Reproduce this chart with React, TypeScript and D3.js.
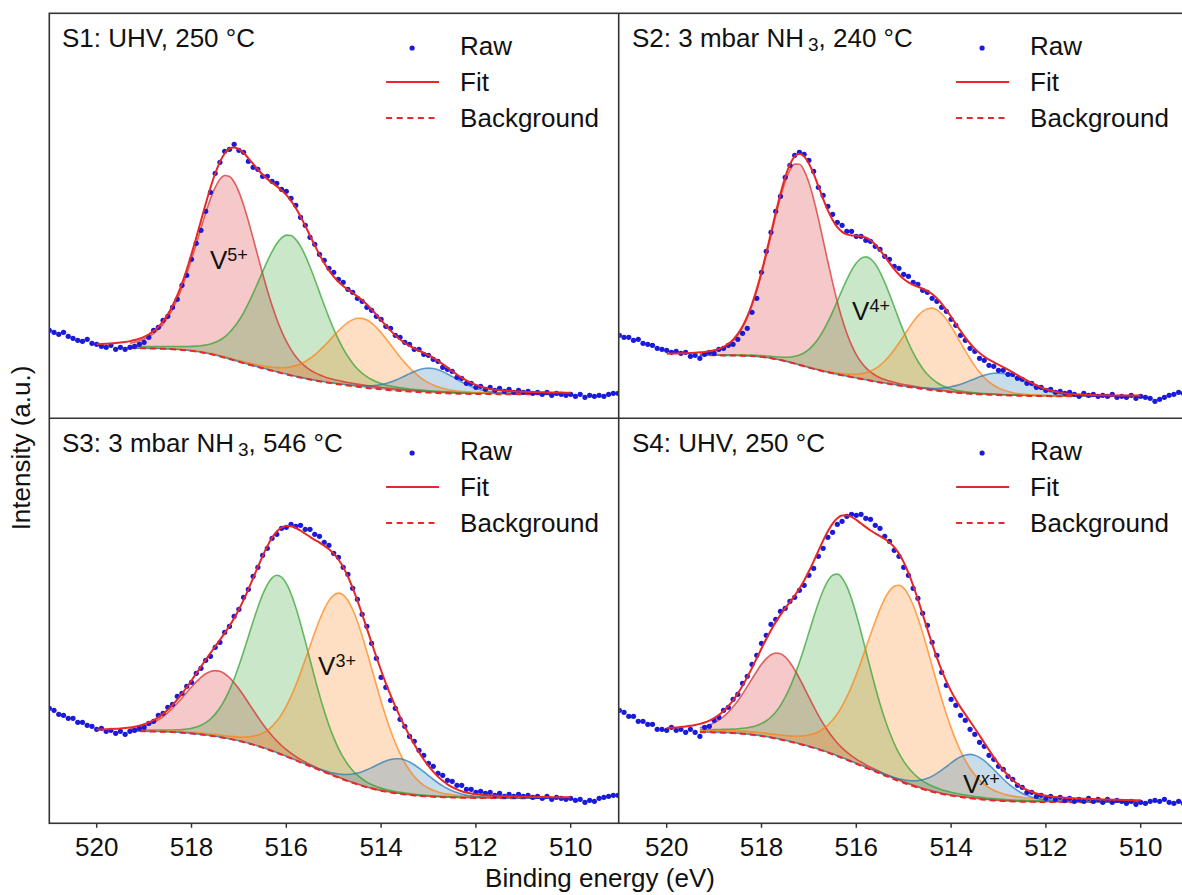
import React from "react";
import * as d3 from "d3";

// raw spectra sampled from 521.0 eV down to 509.0 eV in 0.1 eV steps (a.u.)
const rawStartEnergy = 521.0;
const rawStepEnergy = 0.1;

const s1Raw = [
  8.8, 8.6, 8.4, 8.6, 8.2, 8.0, 7.8, 7.7, 7.9, 7.5,
  7.4, 7.2, 7.1, 7.3, 6.9, 7.1, 6.9, 7.1, 7.2, 7.4,
  7.6, 8.1, 8.8, 9.1, 9.8, 10.2, 11.1, 11.9, 13.3, 14.3,
  15.9, 17.5, 18.8, 20.7, 22.6, 24.5, 25.6, 26.7, 26.9, 27.4,
  26.8, 26.6, 25.7, 25.1, 24.9, 24.2, 24.2, 23.7, 23.5, 22.9,
  22.7, 22.0, 21.3, 20.1, 19.3, 18.1, 17.4, 16.4, 15.8, 15.0,
  14.6, 13.9, 13.6, 12.9, 12.6, 12.0, 11.7, 11.1, 10.8, 10.2,
  9.9, 9.2, 9.0, 8.3, 8.1, 7.6, 7.4, 6.9, 6.9, 6.4,
  6.3, 5.9, 5.7, 5.1, 4.9, 4.7, 4.1, 4.0, 3.5, 3.5,
  3.1, 3.2, 2.9, 3.1, 2.8, 3.0, 2.7, 2.9, 2.6, 2.8,
  2.6, 2.7, 2.5, 2.6, 2.4, 2.6, 2.3, 2.5, 2.4, 2.3,
  2.4, 2.2, 2.4, 2.1, 2.3, 2.2, 2.3, 2.2, 2.4, 2.5,
  2.5,
];

const s2Raw = [
  8.3, 8.1, 8.1, 7.8, 7.9, 7.5, 7.4, 7.3, 7.0, 6.9,
  6.8, 6.6, 6.7, 6.5, 6.6, 6.2, 6.3, 6.0, 6.4, 6.6,
  6.5, 6.9, 7.0, 7.3, 7.4, 7.9, 8.5, 9.0, 10.6, 12.0,
  14.6, 16.7, 18.6, 20.7, 22.2, 24.1, 25.3, 26.3, 26.6, 26.4,
  25.8, 24.7, 23.1, 22.3, 21.2, 20.4, 19.6, 19.3, 18.7, 18.7,
  18.2, 18.2, 17.8, 17.7, 17.2, 16.9, 16.2, 15.9, 15.2, 15.0,
  14.4, 14.2, 13.6, 13.4, 12.8, 12.6, 12.0, 11.7, 11.1, 10.7,
  9.9, 9.3, 8.3, 7.8, 7.0, 6.7, 6.0, 5.8, 5.3, 5.2,
  4.8, 4.8, 4.4, 4.4, 4.0, 3.9, 3.5, 3.5, 3.1, 3.1,
  2.8, 2.9, 2.6, 2.7, 2.5, 2.6, 2.4, 2.2, 2.5, 2.3,
  2.4, 2.2, 2.3, 2.2, 2.4, 2.1, 2.2, 2.1, 2.3, 2.0,
  2.2, 2.1, 2.0, 1.7, 1.9, 2.1, 2.3, 2.4, 2.6, 2.5,
  2.7,
];

const s3Raw = [
  11.5, 11.3, 10.9, 10.8, 10.5, 10.5, 10.1, 10.1, 9.8, 9.7,
  9.4, 9.5, 9.2, 9.3, 9.0, 9.2, 8.9, 9.2, 9.3, 9.5,
  9.6, 10.0, 10.2, 10.8, 11.0, 11.6, 11.9, 12.7, 13.0, 13.7,
  14.1, 15.0, 15.5, 16.3, 16.7, 17.6, 18.1, 19.1, 19.7, 20.7,
  21.4, 22.6, 23.4, 24.7, 25.6, 26.8, 27.5, 28.5, 28.9, 29.5,
  29.6, 29.9, 29.7, 29.8, 29.4, 29.4, 28.9, 28.7, 28.1, 27.8,
  27.0, 26.6, 25.6, 24.9, 23.5, 22.4, 20.9, 19.7, 18.0, 16.5,
  14.6, 13.6, 12.3, 11.5, 10.4, 9.7, 8.7, 8.2, 7.3, 6.8,
  6.0, 5.7, 5.0, 4.8, 4.3, 4.2, 3.8, 3.8, 3.4, 3.4,
  3.1, 3.2, 3.0, 3.1, 2.8, 3.0, 2.7, 2.9, 2.7, 2.9,
  2.7, 2.8, 2.6, 2.7, 2.5, 2.7, 2.4, 2.6, 2.5, 2.4,
  2.5, 2.3, 2.4, 2.1, 2.3, 2.2, 2.5, 2.6, 2.7, 2.8,
  2.8,
];

const s4Raw = [
  11.3, 11.1, 10.7, 10.7, 10.2, 10.2, 9.9, 9.9, 9.4, 9.4,
  9.3, 9.6, 9.3, 9.4, 9.1, 9.4, 9.1, 8.7, 9.6, 9.7,
  10.3, 10.6, 11.3, 11.6, 12.4, 12.9, 14.0, 14.7, 15.9, 16.8,
  18.0, 18.8, 19.9, 20.4, 21.2, 21.5, 22.2, 22.6, 23.3, 23.8,
  24.8, 25.5, 26.7, 27.5, 28.6, 29.1, 29.9, 30.2, 30.7, 30.9,
  30.8, 30.9, 30.5, 30.4, 29.8, 29.5, 28.7, 28.2, 27.3, 26.7,
  25.6, 24.8, 23.5, 22.5, 21.0, 19.8, 18.1, 16.8, 15.1, 13.8,
  12.4, 11.8, 10.8, 10.3, 9.4, 8.9, 8.1, 7.7, 6.8, 6.4,
  5.7, 5.4, 4.7, 4.4, 3.8, 3.6, 3.1, 3.1, 2.7, 2.8,
  2.5, 2.7, 2.4, 2.6, 2.3, 2.5, 2.2, 2.4, 2.2, 2.5,
  2.2, 2.4, 2.1, 2.4, 2.1, 2.3, 2.2, 2.0, 2.2, 1.9,
  2.1, 2.0, 2.2, 2.3, 2.2, 2.4, 2.1, 2.0, 2.2, 2.0,
  2.1,
];

// fitted components (red, green, orange, blue): centre eV, height, FWHM eV
const s1Centers = [517.24, 515.93, 514.42, 512.97];
const s1Heights = [18.3, 14.0, 6.9, 2.45];
const s1Fwhm = [1.52, 1.58, 1.62, 1.3];
const s1Background = [7.0, 2.4]; // Shirley end levels: high-BE side, low-BE side
const s1Lorentz = 0.2;

const s2Centers = [517.23, 515.78, 514.4, 513.0];
const s2Heights = [20.1, 12.3, 8.2, 2.2];
const s2Fwhm = [1.36, 1.44, 1.44, 1.4];
const s2Background = [6.3, 2.2];
const s2Lorentz = 0.1;

const s3Centers = [517.45, 516.15, 514.85, 513.6];
const s3Heights = [6.6, 17.8, 18.5, 3.5];
const s3Fwhm = [1.56, 1.52, 1.66, 1.4];
const s3Background = [9.2, 2.5];
const s3Lorentz = 0.1;

const s4Centers = [517.64, 516.39, 515.08, 513.57];
const s4Heights = [8.6, 18.2, 19.6, 4.4];
const s4Fwhm = [1.44, 1.5, 1.72, 1.34];
const s4Background = [9.1, 2.1];
const s4Lorentz = 0.2;

const energyTicks = [520, 518, 516, 514, 512, 510];
const legendLabels = ["Raw", "Fit", "Background"];
const titleMain = ["S1: UHV, 250 °C", "S2: 3 mbar NH", "S3: 3 mbar NH", "S4: UHV, 250 °C"];
const titleSub = ["", "3", "3", ""];
const titleTail = ["", ", 240 °C", ", 546 °C", ""];
const peakLabelSup = ["5+", "4+", "3+", "x+"];
const peakLabelAt = [[517.61, 14.9], [516.09, 9.8], [515.33, 14.8], [513.75, 3.0]];

const panels = [
  { raw: s1Raw, centers: s1Centers, heights: s1Heights, fwhm: s1Fwhm, bg: s1Background, eta: s1Lorentz },
  { raw: s2Raw, centers: s2Centers, heights: s2Heights, fwhm: s2Fwhm, bg: s2Background, eta: s2Lorentz },
  { raw: s3Raw, centers: s3Centers, heights: s3Heights, fwhm: s3Fwhm, bg: s3Background, eta: s3Lorentz },
  { raw: s4Raw, centers: s4Centers, heights: s4Heights, fwhm: s4Fwhm, bg: s4Background, eta: s4Lorentz },
];

const fitHigh = 520.0;
const fitLow = 510.0;
const bgHigh = 519.3;

const componentColors = ["#d62728", "#2ca02c", "#ff7f0e", "#1f77b4"];
const fitColor = "#e6282a";
const rawColor = "#1a1ad9";
const font = "'Liberation Sans', Arial, Helvetica, sans-serif";

const width = 1182;
const height = 895;
const panelW = 568.8;
const panelH = 405;
const panelX = [49.3, 619.3];
const panelY = [13.3, 418.3];

const pseudoVoigt = (e: number, c: number, h: number, fwhm: number, eta: number) => {
  const t = (e - c) / (fwhm / 2);
  const t2 = t * t;
  return h * ((1 - eta) * Math.exp(-Math.LN2 * t2) + eta / (1 + t2));
};

function Panel({ idx }: { idx: number }) {
  const p = panels[idx];
  const x0 = panelX[idx % 2];
  const y0 = panelY[Math.floor(idx / 2)];

  const x = d3.scaleLinear().domain([521, 509]).range([x0, x0 + panelW]);
  const y = d3.scaleLinear().domain([0, 40.5]).range([y0 + panelH, y0]);

  const energies = p.raw.map((_, i) => rawStartEnergy - i * rawStepEnergy);
  const inFit = d3.range(0, energies.length).filter(
    (i) => energies[i] <= fitHigh + 1e-6 && energies[i] >= fitLow - 1e-6
  );
  const inBg = inFit.filter((i) => energies[i] <= bgHigh + 1e-6);

  // iterative Shirley background on the measured spectrum
  const [hi, lo] = p.bg;
  let bgVals = inBg.map(() => lo);
  for (let it = 0; it < 6; it++) {
    const net = inBg.map((i, k) => p.raw[i] - bgVals[k]);
    const cum = new Array(inBg.length).fill(0);
    for (let k = inBg.length - 2; k >= 0; k--) {
      cum[k] = cum[k + 1] + ((net[k] + net[k + 1]) / 2) * rawStepEnergy;
    }
    bgVals = cum.map((c) => lo + (hi - lo) * (c / cum[0]));
  }
  const bgAt = new Map<number, number>();
  inBg.forEach((i, k) => bgAt.set(i, bgVals[k]));
  const bgOf = (i: number) => (bgAt.has(i) ? (bgAt.get(i) as number) : hi);

  const comp = (k: number, i: number) =>
    pseudoVoigt(energies[i], p.centers[k], p.heights[k], p.fwhm[k], p.eta);
  const fitOf = (i: number) => bgOf(i) + d3.sum(p.centers, (_, k) => comp(k, i));

  const curve = d3.curveMonotoneX;
  const area = (k: number) =>
    d3
      .area<number>()
      .curve(curve)
      .x((i) => x(energies[i]))
      .y0((i) => y(bgOf(i)))
      .y1((i) => y(bgOf(i) + comp(k, i)))(inBg) || "";
  const topLine = (k: number) =>
    d3
      .line<number>()
      .curve(curve)
      .x((i) => x(energies[i]))
      .y((i) => y(bgOf(i) + comp(k, i)))(inBg) || "";
  const bgLine =
    d3
      .line<number>()
      .curve(curve)
      .x((i) => x(energies[i]))
      .y((i) => y(bgOf(i)))(inBg) || "";
  const fitLine =
    d3
      .line<number>()
      .curve(curve)
      .x((i) => x(energies[i]))
      .y((i) => y(fitOf(i)))(inFit) || "";

  const clipId = `clip-${idx}`;
  const legendX = x0 + panelW - 158;
  const [labE, labV] = peakLabelAt[idx];

  return (
    <g>
      <defs>
        <clipPath id={clipId}>
          <rect x={x0} y={y0} width={panelW} height={panelH} />
        </clipPath>
      </defs>
      <g clipPath={`url(#${clipId})`}>
        {p.centers.map((_, k) => (
          <path key={`a${k}`} d={area(k)} fill={componentColors[k]} fillOpacity={0.25} />
        ))}
        {p.centers.map((_, k) => (
          <path
            key={`l${k}`}
            d={topLine(k)}
            fill="none"
            stroke={componentColors[k]}
            strokeOpacity={0.7}
            strokeWidth={1.6}
          />
        ))}
        <path d={bgLine} fill="none" stroke={fitColor} strokeWidth={2} strokeDasharray="6,4" />
        {p.raw.map((v, i) => (
          <circle key={`r${i}`} cx={x(energies[i])} cy={y(v)} r={2.6} fill={rawColor} />
        ))}
        <path d={fitLine} fill="none" stroke={fitColor} strokeWidth={2} />
      </g>

      <text x={x0 + 12.7} y={y0 + 33.5} fontSize={26} fontFamily={font} fill="#111">
        {titleMain[idx]}
        {titleSub[idx] && (
          <tspan fontSize={19} dx={4} dy={4}>
            {titleSub[idx]}
          </tspan>
        )}
        {titleTail[idx] && (
          <tspan fontSize={26} dy={-4}>
            {titleTail[idx]}
          </tspan>
        )}
      </text>

      <text x={x(labE)} y={y(labV)} fontSize={26} fontFamily={font} fill="#111">
        V
        <tspan fontSize={18} dy={-8}>
          {idx === 3 ? (
            <>
              <tspan fontStyle="italic">x</tspan>+
            </>
          ) : (
            peakLabelSup[idx]
          )}
        </tspan>
      </text>

      <g fontFamily={font} fontSize={26} fill="#111">
        <circle cx={legendX - 48} cy={y0 + 34.7} r={2.6} fill={rawColor} />
        <text x={legendX} y={y0 + 41.7}>{legendLabels[0]}</text>
        <line
          x1={legendX - 74}
          x2={legendX - 21}
          y1={y0 + 68.7}
          y2={y0 + 68.7}
          stroke={fitColor}
          strokeWidth={2}
        />
        <text x={legendX} y={y0 + 77.4}>{legendLabels[1]}</text>
        <line
          x1={legendX - 74}
          x2={legendX - 21}
          y1={y0 + 104.7}
          y2={y0 + 104.7}
          stroke={fitColor}
          strokeWidth={2}
          strokeDasharray="6,4.6"
        />
        <text x={legendX} y={y0 + 113.7}>{legendLabels[2]}</text>
      </g>

      {y0 > 100 && (
        <g fontFamily={font} fontSize={26} fill="#111">
          {energyTicks.map((t) => (
            <g key={t}>
              <line x1={x(t)} x2={x(t)} y1={y0 + panelH} y2={y0 + panelH + 4.5} stroke="#333" strokeWidth={1.5} />
              <text x={x(t)} y={y0 + panelH + 32.2} textAnchor="middle">
                {t}
              </text>
            </g>
          ))}
        </g>
      )}
    </g>
  );
}

export default function App() {
  return (
    <svg
      width={width}
      height={height}
      style={{ position: "absolute", left: 0, top: 0, background: "#fff" }}
    >
      <rect x={0} y={0} width={width} height={height} fill="#fff" />
      {panels.map((_, i) => (
        <Panel key={i} idx={i} />
      ))}
      <rect
        x={panelX[0]}
        y={panelY[0]}
        width={panelX[1] + panelW - panelX[0]}
        height={panelH * 2}
        fill="none"
        stroke="#333"
        strokeWidth={1.6}
      />
      <line x1={618.7} x2={618.7} y1={panelY[0]} y2={panelY[1] + panelH} stroke="#333" strokeWidth={1.6} />
      <line x1={panelX[0]} x2={width} y1={panelY[1]} y2={panelY[1]} stroke="#333" strokeWidth={1.6} />
      <text x={600} y={886.5} textAnchor="middle" fontFamily={font} fontSize={26} fill="#111">
        Binding energy (eV)
      </text>
      <text
        transform="translate(29.5,448) rotate(-90)"
        textAnchor="middle"
        fontFamily={font}
        fontSize={26}
        fill="#111"
      >
        Intensity (a.u.)
      </text>
    </svg>
  );
}
